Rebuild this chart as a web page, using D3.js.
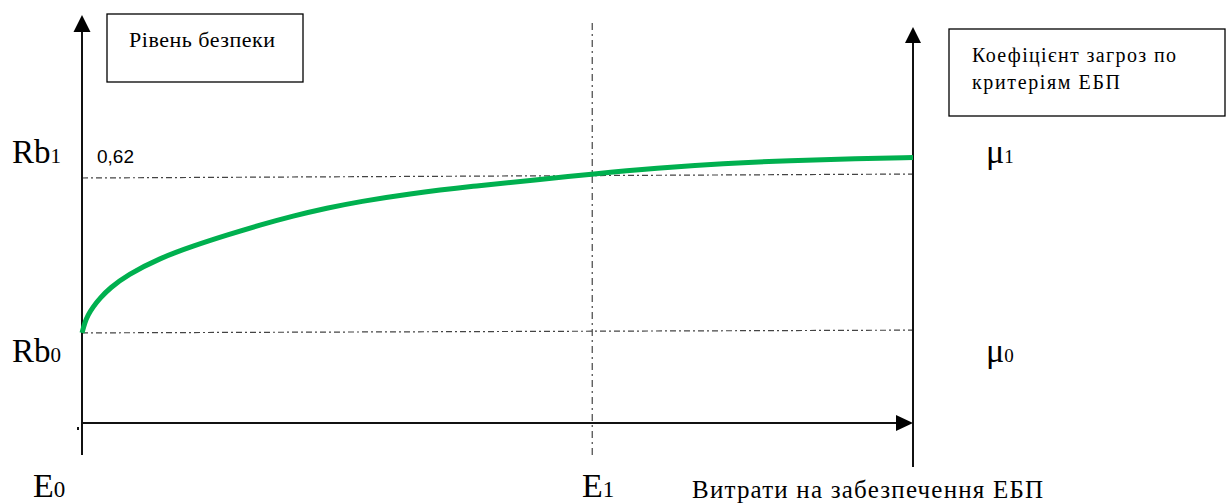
<!DOCTYPE html>
<html>
<head>
<meta charset="utf-8">
<script src="https://cdn.jsdelivr.net/npm/d3@7/dist/d3.min.js"></script>
<style>
  html, body { margin: 0; padding: 0; background: #fff; }
  svg { display: block; }
</style>
</head>
<body>
<svg id="chart" width="1226" height="504"></svg>
<script>
// ---- data (costs on x: E0 = 0 .. right axis = 100; security level on y) ----
const curveCost  = [0, 0.36, 0.72, 1.32, 2.17, 3.37, 5.42, 9.39, 13.36, 17.45, 21.42, 25.39, 29.48, 33.45, 39.11, 47.05, 55.11, 61.37, 69.19, 77.14, 85.2, 93.26, 100];
const curveLevel = [0.228, 0.2556, 0.2733, 0.2935, 0.3163, 0.3416, 0.3745, 0.4175, 0.4479, 0.4757, 0.5010, 0.5238, 0.5440, 0.5605, 0.5795, 0.5997, 0.6161, 0.6301, 0.6452, 0.6566, 0.6642, 0.6693, 0.6718];

const levelNames  = ["Rb", "Rb"];
const levelSubs   = ["0", "1"];
const levelLeft   = [0.228, 0.62];   // reference lines at the left axis
const levelRight  = [0.235, 0.630];  // same lines at the right axis (scan is slightly tilted)
const muSubs      = ["0", "1"];
const costNames   = ["E", "E"];
const costSubs    = ["0", "1"];
const costValues  = [0, 61.4];
const valueLabel  = "0,62";
const leftTitle   = "Рівень безпеки";
const rightTitle  = ["Коефіцієнт загроз по", "критеріям ЕБП"];
const xTitle      = "Витрати на забезпечення ЕБП";

// ---- scales ----
const x = d3.scaleLinear().domain([0, 100]).range([82, 913]);
const y = d3.scaleLinear().domain([0, 0.62]).range([423, 178]);

const svg = d3.select("#chart");
const serif = "Liberation Serif";
const sans = "Liberation Sans";

// ---- boxes ----
svg.append("rect").attr("x", 107).attr("y", 14).attr("width", 196).attr("height", 68)
  .attr("fill", "none").attr("stroke", "#000").attr("stroke-width", 1.3);
svg.append("text").attr("x", 129).attr("y", 47).attr("font-family", serif)
  .attr("font-size", 22).attr("fill", "#000")
  .attr("textLength", 146).attr("lengthAdjust", "spacing").text(leftTitle);

const rightWidths = [204, 148];
svg.append("rect").attr("x", 949).attr("y", 29).attr("width", 276).attr("height", 87)
  .attr("fill", "none").attr("stroke", "#000").attr("stroke-width", 1.3);
svg.append("g").selectAll("text").data(rightTitle).join("text")
  .attr("font-family", serif).attr("font-size", 20).attr("fill", "#000")
  .attr("x", 972).attr("y", (d, i) => 62 + i * 27)
  .attr("textLength", (d, i) => rightWidths[i]).attr("lengthAdjust", "spacing")
  .text(d => d);

// ---- reference lines (dash-dot) ----
svg.append("g").selectAll("line").data(levelLeft).join("line")
  .attr("x1", x(0)).attr("x2", x(100))
  .attr("y1", d => y(d)).attr("y2", (d, i) => y(levelRight[i]))
  .attr("stroke", "#444").attr("stroke-width", 1.2)
  .attr("stroke-dasharray", "6,3,2,3");

// vertical E1 line
svg.append("line")
  .attr("x1", x(costValues[1])).attr("x2", x(costValues[1]))
  .attr("y1", 23).attr("y2", 455)
  .attr("stroke", "#444").attr("stroke-width", 1.2)
  .attr("stroke-dasharray", "7,4,2,4");

// ---- axes ----
const axisG = svg.append("g").attr("stroke", "#111").attr("stroke-width", 2);
axisG.append("line").attr("x1", x(0)).attr("x2", x(0)).attr("y1", 30).attr("y2", 455);
axisG.append("line").attr("x1", x(100)).attr("x2", x(100)).attr("y1", 42).attr("y2", 467);
axisG.append("line").attr("x1", x(0)).attr("x2", x(100) - 14).attr("y1", y(0)).attr("y2", y(0));
// tiny tick at origin
svg.append("rect").attr("x", 77).attr("y", 427).attr("width", 2).attr("height", 3).attr("fill", "#111");

const arrows = svg.append("g").attr("fill", "#000");
arrows.append("path").attr("d", d3.line()([[x(0), 15], [x(0) - 8.5, 32], [x(0) + 8.5, 32]]) + "Z");
arrows.append("path").attr("d", d3.line()([[x(100), 27], [x(100) - 8, 43], [x(100) + 8, 43]]) + "Z");
arrows.append("path").attr("d", d3.line()([[x(100), y(0)], [x(100) - 17, y(0) - 8], [x(100) - 17, y(0) + 8]]) + "Z");

// ---- curve ----
const pts = curveCost.map((c, i) => [c, curveLevel[i]]);
svg.append("path")
  .datum(pts)
  .attr("fill", "none")
  .attr("stroke", "#00b04f")
  .attr("stroke-width", 5)
  .attr("d", d3.line().x(d => x(d[0])).y(d => y(d[1])).curve(d3.curveBasis));

// ---- labels ----
const levelBase = [362, 163];
levelNames.forEach((n, i) => {
  const t = svg.append("text").attr("x", 12).attr("y", levelBase[i])
    .attr("font-family", serif).attr("fill", "#000");
  t.append("tspan").attr("font-size", 33).text(n);
  t.append("tspan").attr("font-size", 21).text(levelSubs[i]);
});
svg.append("text").attr("x", 97).attr("y", 163).attr("font-family", sans)
  .attr("font-size", 19).attr("fill", "#000").text(valueLabel);

const muBase = [362, 163];
muSubs.forEach((s, i) => {
  const t = svg.append("text").attr("x", 986).attr("y", muBase[i])
    .attr("font-family", serif).attr("fill", "#000");
  t.append("tspan").attr("font-size", 34).text("μ");
  t.append("tspan").attr("font-size", 19).text(s);
});

const costX = [33, 582];
costNames.forEach((n, i) => {
  const t = svg.append("text").attr("x", costX[i]).attr("y", 497)
    .attr("font-family", serif).attr("fill", "#000");
  t.append("tspan").attr("font-size", 34).text(n);
  t.append("tspan").attr("font-size", 23).text(costSubs[i]);
});

svg.append("text").attr("x", 692).attr("y", 498).attr("font-family", serif)
  .attr("font-size", 25).attr("fill", "#000")
  .attr("textLength", 351).attr("lengthAdjust", "spacing").text(xTitle);
</script>
</body>
</html>
